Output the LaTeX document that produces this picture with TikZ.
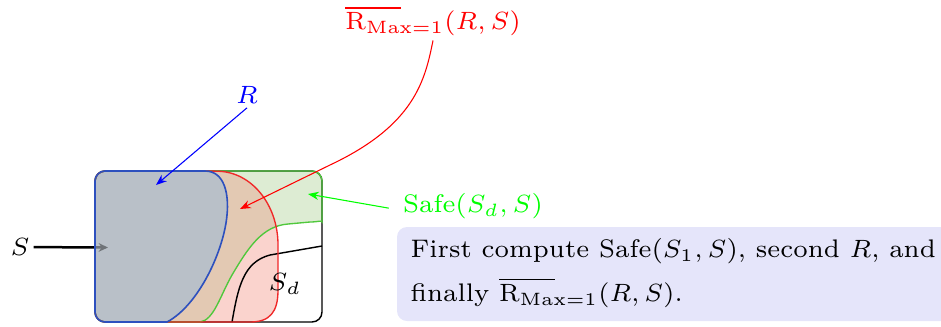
\documentclass[tikz,border=0pt]{standalone}
\usetikzlibrary{arrows.meta}
\definecolor{rfill}{RGB}{185,192,200}
\definecolor{tanfill}{RGB}{227,201,179}
\definecolor{pinkfill}{RGB}{250,211,205}
\definecolor{gfill}{RGB}{221,236,211}
\definecolor{lav}{RGB}{229,229,250}
\definecolor{gline}{RGB}{80,200,60}
\definecolor{bline}{RGB}{45,80,190}
\definecolor{rline}{RGB}{240,40,40}
\newcommand{\RMax}{\rlap{$\overline{\phantom{\mathrm{R}_{\mathrm{Ma}}}}$}\mathrm{R}_{\mathrm{Max}=1}}
\def\Gpath{(95,250) [rounded corners=2.8pt] |- (322,171) -- (322,212) [sharp corners] .. controls (322,220) and (318,222) .. (310,222) -- (288,224) .. controls (262,226) and (248,248) .. (232,275) .. controls (220,296) and (214,320) .. (200,322) [rounded corners=2.8pt] -- (95,322) -- cycle}
\def\Rdpath{(95,250) [rounded corners=2.8pt] |- (208,171) [sharp corners] .. controls (252,172) and (278,205) .. (278,245) -- (278,290) .. controls (278,312) and (270,322) .. (250,322) [rounded corners=2.8pt] -- (95,322) -- cycle}
\def\Bpath{(95,250) [rounded corners=2.8pt] |- (195,171) [sharp corners] .. controls (225,171) and (229,195) .. (227,215) .. controls (224,250) and (199,305) .. (167,322) [rounded corners=2.8pt] -- (95,322) -- cycle}
\begin{document}
\begin{tikzpicture}[x=0.28pt,y=-0.28pt,
  font=\fontsize{7.12}{12.3}\selectfont,
  lbl/.style={inner sep=1pt},
  thinarrow/.style={line width=0.3pt,-{Stealth[length=3pt,width=2.3pt]}},
  outline/.style={line width=0.38pt}]
\useasboundingbox (0,0) rectangle (941,326);
% text box
\begin{scope}
  \clip (0,0) rectangle (941,326);
  \fill[lav, rounded corners=2.8pt] (397,227) rectangle (990,321);
\end{scope}
\node[anchor=base west, inner sep=0pt, align=left] (note) at (410,301.7)
  {First compute Safe($S_1,S$), second $R$, and\\finally $\RMax(R,S)$.};
% region fills
\fill[gfill] \Gpath;
\fill[pinkfill] \Rdpath;
\begin{scope}
  \clip \Rdpath;
  \fill[tanfill] \Gpath;
\end{scope}
\fill[rfill] \Bpath;
% S arrow (under the translucent R fill)
\node[lbl] (Slab) at (20,247) {$S$};
\coordinate (Sin) at (108,247.5);
\draw[line width=0.7pt, -{Stealth[length=2.6pt,width=2.4pt]}] (Slab) -- (Sin);
\fill[rfill, opacity=0.6] \Bpath;
% outer box and S_d boundary
\draw[line width=0.4pt, rounded corners=2.8pt] (95,171) rectangle (322,322);
\draw[line width=0.4pt] (232,322) .. controls (238,288) and (243,262) .. (270,255) -- (322,246);
% outlines
\draw[outline, gline] \Gpath;
\draw[outline, rline] \Rdpath;
\draw[outline, bline, line width=0.45pt] \Bpath;
% labels
\node[lbl] (Sdlab) at (285,284) {$S_d$};
\node[lbl, text=blue] (Rlab) at (247,95) {$R$};
\node[lbl, text=red] (RMlab) at (433,21) {$\RMax(R,S)$};
\node[lbl, text=green] (Safelab) at (473,206) {Safe($S_d,S$)};
% arrows
\coordinate (Rtip) at (156,185);
\draw[thinarrow, blue] (Rlab.south) -- (Rtip);
\coordinate (RMbend) at (330,165);
\coordinate (RMtip) at (240,209);
\draw[thinarrow, red] (RMlab.south) .. controls (425,80) and (415,125) .. (RMbend) -- (RMtip);
\coordinate (Gtip) at (308,194);
\draw[thinarrow, green] ([xshift=-2.8pt,yshift=-0.6pt]Safelab.west) -- (Gtip);
\end{tikzpicture}
\end{document}
